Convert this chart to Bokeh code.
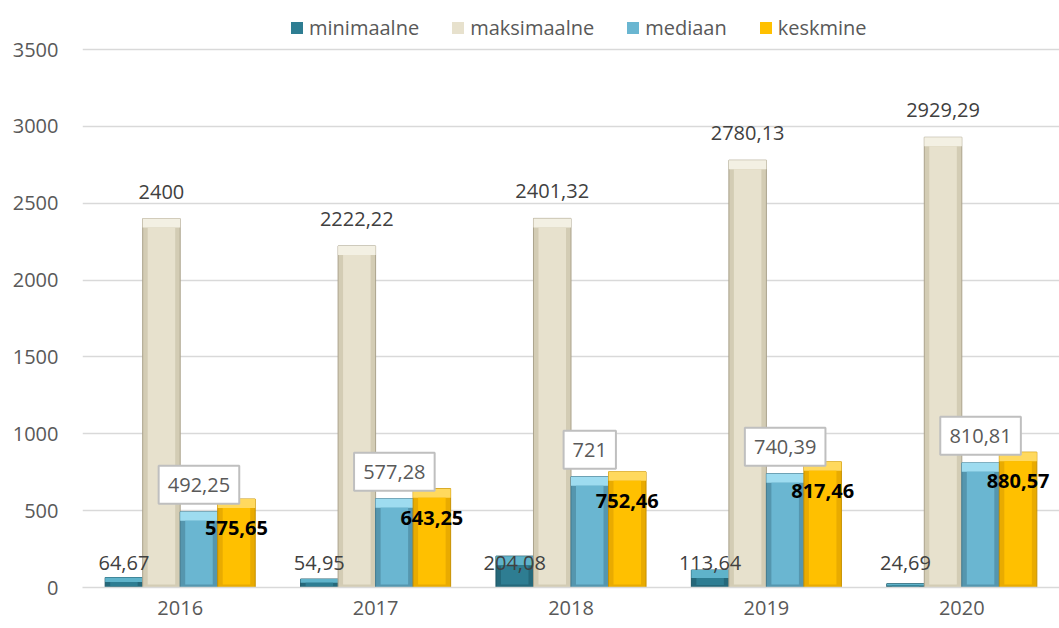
from bokeh.plotting import figure
from bokeh.models import (ColumnDataSource, FactorRange, Range1d, FixedTicker,
                          LabelSet, Legend, LegendItem)
from bokeh.transform import dodge
from bokeh.core.properties import value
from bokeh.embed import file_html
from bokeh.resources import INLINE

# ---------------- data ----------------
years = ["2016", "2017", "2018", "2019", "2020"]
minimaalne = [64.67, 54.95, 204.08, 113.64, 24.69]
maksimaalne = [2400, 2222.22, 2401.32, 2780.13, 2929.29]
mediaan = [492.25, 577.28, 721, 740.39, 810.81]
keskmine = [575.65, 643.25, 752.46, 817.46, 880.57]
series_names = ["minimaalne", "maksimaalne", "mediaan", "keskmine"]
y_ticks = [0, 500, 1000, 1500, 2000, 2500, 3000, 3500]

# ---------------- layout constants ----------------
W, H = 1059, 628
B_LEFT, B_BOTTOM, B_TOP, B_RIGHT = 82, 41, 0, 0
Y_END = 3819
FRAME_H = H - B_BOTTOM - B_TOP
FRAME_W = W - B_LEFT - B_RIGHT
PX_Y = FRAME_H / Y_END              # pixels per data unit (y)
PX_X = FRAME_W / len(years)         # pixels per category (x)

BAR_W = 0.192
OFFSETS = [-0.288, -0.096, 0.096, 0.288]
FONT = "Open Sans"

styles = {
    "minimaalne":  dict(face="#2E7D92", top="#5FB3CA", side="#25687A", edge="#1E5766"),
    "maksimaalne": dict(face="#E7E1CD", top="#F3F0E3", side="#D3CCB4", edge="#ABA38C"),
    "mediaan":     dict(face="#6AB6D1", top="#9EDCF0", side="#5596AE", edge="#427C92"),
    "keskmine":    dict(face="#FFC000", top="#FFD95E", side="#E9AB00", edge="#C79100"),
}
values = dict(zip(series_names, [minimaalne, maksimaalne, mediaan, keskmine]))


def fmt(v):
    if float(v).is_integer():
        return str(int(v))
    return f"{v:.2f}".replace(".", ",")


def text_px(s, size=20):
    # rough Open Sans advance widths
    return sum((0.27 if c == "," else 0.572) for c in s) * size


p = figure(x_range=FactorRange(*years), y_range=Range1d(0, Y_END),
           width=W, height=H, output_backend="svg", toolbar_location=None,
           min_border_left=B_LEFT, min_border_bottom=B_BOTTOM,
           min_border_top=B_TOP, min_border_right=B_RIGHT)
p.outline_line_color = None
p.background_fill_color = "white"
p.border_fill_color = "white"

# axes
p.yaxis.ticker = FixedTicker(ticks=y_ticks)
p.yaxis.axis_line_color = None
p.yaxis.major_tick_line_color = None
p.yaxis.minor_tick_line_color = None
p.yaxis.major_tick_out = 0
p.yaxis.major_tick_in = 0
p.yaxis.minor_tick_out = 0
p.yaxis.major_label_standoff = 24
p.yaxis.major_label_text_font = FONT
p.yaxis.major_label_text_font_size = "20px"
p.yaxis.major_label_text_color = "#595959"

p.xaxis.axis_line_color = "#D9D9D9"
p.xaxis.axis_line_width = 1.5
p.xaxis.major_tick_line_color = None
p.xaxis.minor_tick_line_color = None
p.xaxis.major_tick_out = 0
p.xaxis.major_tick_in = 0
p.xaxis.minor_tick_out = 0
p.xaxis.major_label_standoff = 13
p.xaxis.major_label_text_font = FONT
p.xaxis.major_label_text_font_size = "20px"
p.xaxis.major_label_text_color = "#595959"

p.xgrid.grid_line_color = None
p.ygrid.ticker = FixedTicker(ticks=y_ticks)
p.ygrid.grid_line_color = "#D9D9D9"
p.ygrid.grid_line_width = 1.5

BEVEL_T = 9 / PX_Y
BEVEL_B = 3 / PX_Y
SIDE = 5 / PX_X

legend_items = []
for name, off in zip(series_names, OFFSETS):
    vals = values[name]
    st = styles[name]
    bt = [min(BEVEL_T, 0.45 * v) for v in vals]
    bb = [min(BEVEL_B, 0.15 * v) for v in vals]
    src = ColumnDataSource(dict(
        year=years, top=vals,
        face_top=[v - t for v, t in zip(vals, bt)],
        face_bot=bb,
        zero=[0] * len(years),
    ))
    x = dodge("year", off, range=p.x_range)
    p.vbar(x=x, top="top", bottom="zero", width=BAR_W, source=src,
           fill_color=st["side"], line_color=st["edge"], line_width=1)
    p.vbar(x=x, top="top", bottom="face_top", width=BAR_W, source=src,
           fill_color=st["top"], line_color=None)
    r = p.vbar(x=x, top="face_top", bottom="face_bot", width=BAR_W - 2 * SIDE,
               source=src, fill_color=st["face"], line_color=None)
    legend_items.append(LegendItem(label=name, renderers=[r]))

legend = Legend(items=legend_items, orientation="horizontal",
                location=(207, 546))
legend.label_text_font = FONT
legend.label_text_font_size = "20px"
legend.label_text_color = "#595959"
legend.glyph_width = 15
legend.glyph_height = 15
legend.label_standoff = 5
legend.spacing = 31
legend.padding = 2
legend.margin = 0
legend.border_line_color = None
legend.background_fill_alpha = 0
p.add_layout(legend)

# ---------------- data labels ----------------
md_t = [fmt(v) for v in mediaan]
BOX_H = 38
BOX_GAP = 8
lab_src = ColumnDataSource(dict(
    year=years,
    mn=minimaalne, mx=maksimaalne, md=mediaan, mean=keskmine,
    mn_t=[fmt(v) for v in minimaalne],
    mx_t=[fmt(v) for v in maksimaalne],
    md_t=md_t,
    mean_t=[fmt(v) for v in keskmine],
    box_y=[v + (BOX_GAP + BOX_H / 2) / PX_Y for v in mediaan],
    box_w=[text_px(s) + 18 for s in md_t],
    zero=[0] * len(years),
))

p.rect(x=dodge("year", OFFSETS[2], range=p.x_range), y="box_y",
       width="box_w", height=BOX_H, width_units="screen", height_units="screen",
       source=lab_src, fill_color="white", line_color="#BFBFBF", line_width=2)

common = dict(source=lab_src, text_align="center", text_font=value(FONT),
              text_font_size="20px")
p.add_layout(LabelSet(x=dodge("year", OFFSETS[0], range=p.x_range), y="zero",
                      text="mn_t", y_offset=18, text_baseline="alphabetic",
                      text_color="#404040", **common))
p.add_layout(LabelSet(x=dodge("year", OFFSETS[1], range=p.x_range), y="mx",
                      text="mx_t", y_offset=20, text_baseline="alphabetic",
                      text_color="#404040", **common))
p.add_layout(LabelSet(x=dodge("year", OFFSETS[2], range=p.x_range), y="box_y",
                      text="md_t", text_baseline="middle",
                      text_color="#595959", **common))
p.add_layout(LabelSet(x=dodge("year", OFFSETS[3], range=p.x_range), y="mean",
                      text="mean_t", y_offset=-36, text_baseline="alphabetic",
                      text_font_style="bold", text_color="black", **common))

open("out.html", "w").write(file_html(p, INLINE))
